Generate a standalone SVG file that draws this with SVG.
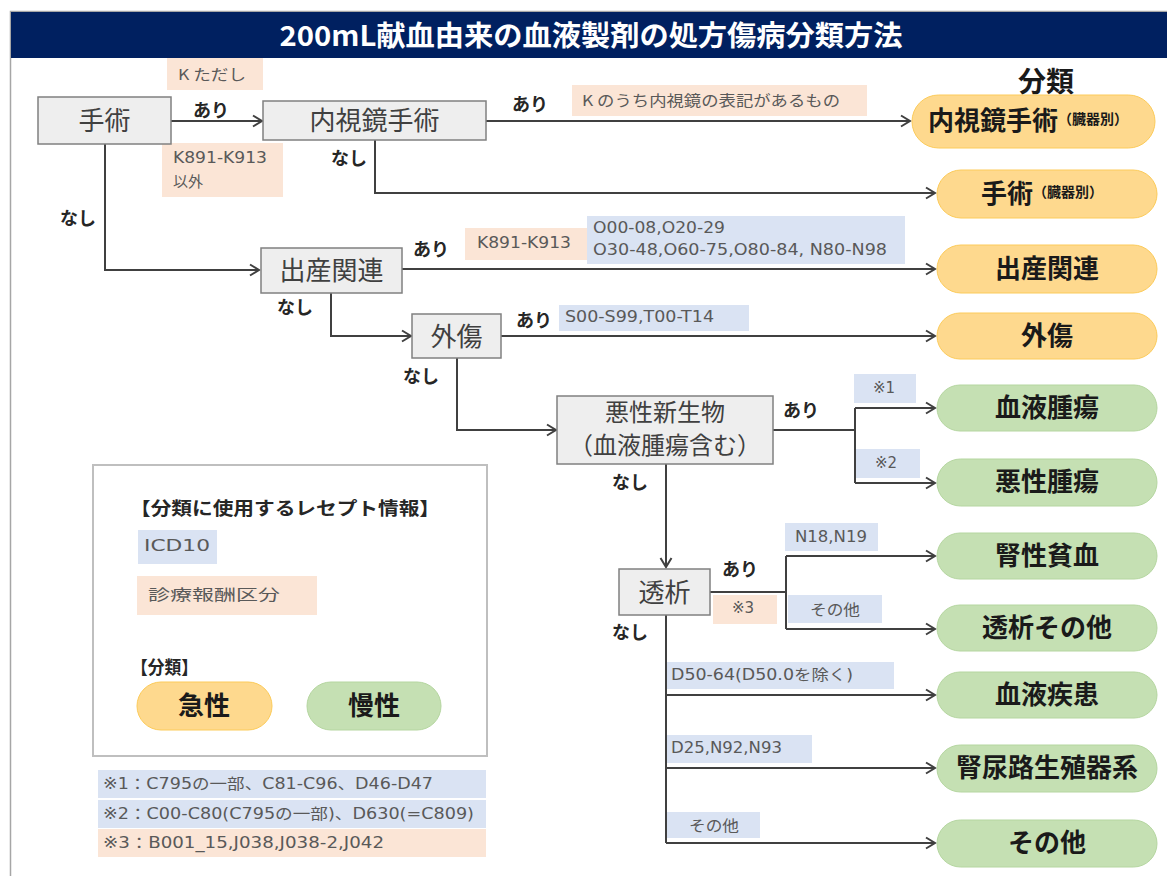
<svg xmlns="http://www.w3.org/2000/svg" width="1167" height="876" viewBox="0 0 1167 876">
<style>
.node rect{fill:#eeeeee;stroke:#808080;stroke-width:1.5}
.node text{font-family:"Noto Sans CJK JP","Noto Sans",sans-serif;font-size:26px;fill:#404040;text-anchor:middle;dominant-baseline:central}
.node .two{font-size:24px}
.lbl{font-family:"Noto Sans CJK JP","Noto Sans",sans-serif;font-size:18px;font-weight:bold;fill:#262626;dominant-baseline:central}
.pe{fill:#fbe5d6}
.bl{fill:#dae3f3}
.code{font-family:"DejaVu Sans","Noto Sans CJK JP",sans-serif;font-size:15px;fill:#595959;dominant-baseline:central}
.jpl{font-family:"Noto Sans CJK JP","Noto Sans",sans-serif;font-size:15px;fill:#595959;dominant-baseline:central}
.acute rect{fill:#fed98e;stroke:#fccb5a;stroke-width:1}
.chronic rect{fill:#c5e0b3;stroke:#b5d6a0;stroke-width:1}
.pill text{font-family:"Noto Sans CJK JP","Noto Sans",sans-serif;font-size:26px;font-weight:bold;fill:#1a1a1a;text-anchor:middle;dominant-baseline:central}
.pill .sm{font-size:14px}
.conn path{fill:none;stroke:#404040;stroke-width:2}
</style>
<defs>
<marker id="arr" viewBox="-11 -7 12 14" refX="0" refY="0" markerWidth="12" markerHeight="14" markerUnits="userSpaceOnUse" orient="auto" overflow="visible">
<path d="M-9,-5.5 L0,0 L-9,5.5" fill="none" stroke="#404040" stroke-width="2"/>
</marker>
</defs>
<rect x="0" y="0" width="1167" height="876" fill="#ffffff"/>
<rect x="10.5" y="11.5" width="1170" height="880" fill="none" stroke="#a6a6a6" stroke-width="1.5"/>
<g id="title">
<rect x="11" y="12" width="1160" height="46" fill="#002060"/>
<text x="591" y="34" font-family="Noto Sans CJK JP, sans-serif" font-size="28" font-weight="bold" fill="#ffffff" text-anchor="middle" dominant-baseline="central" textLength="623" lengthAdjust="spacingAndGlyphs">200mL献血由来の血液製剤の処方傷病分類方法</text>
</g>
<text x="1046" y="80" font-family="Noto Sans CJK JP, sans-serif" font-size="28" font-weight="bold" fill="#1a1a1a" text-anchor="middle" dominant-baseline="central">分類</text>

<g id="label-boxes">
<rect class="pe" x="167" y="58" width="96" height="32"/>
<text class="jpl" x="178" y="73" textLength="68" lengthAdjust="spacingAndGlyphs">K ただし</text>
<rect class="pe" x="162" y="143" width="121" height="54"/>
<text class="code" x="173" y="158" textLength="94" lengthAdjust="spacingAndGlyphs">K891-K913</text>
<text class="jpl" x="173" y="180">以外</text>
<rect class="pe" x="572" y="85" width="295" height="31"/>
<text class="jpl" x="582" y="99" textLength="258" lengthAdjust="spacingAndGlyphs">K のうち内視鏡の表記があるもの</text>
<rect class="pe" x="465" y="228" width="122" height="32"/>
<text class="code" x="477" y="243" textLength="94" lengthAdjust="spacingAndGlyphs">K891-K913</text>
<rect class="bl" x="587" y="216" width="318" height="48"/>
<text class="code" x="593" y="228" textLength="132" lengthAdjust="spacingAndGlyphs">O00-08,O20-29</text>
<text class="code" x="593" y="250" textLength="294" lengthAdjust="spacingAndGlyphs">O30-48,O60-75,O80-84, N80-N98</text>
<rect class="bl" x="559" y="305" width="190" height="26"/>
<text class="code" x="565" y="317" textLength="149" lengthAdjust="spacingAndGlyphs">S00-S99,T00-T14</text>
<rect class="bl" x="854" y="374" width="62" height="29"/>
<text class="code" x="873" y="388" font-size="16">※1</text>
<rect class="bl" x="854" y="449" width="66" height="29"/>
<text class="code" x="875" y="463" font-size="16">※2</text>
<rect class="bl" x="785" y="523" width="93" height="28"/>
<text class="code" x="795" y="537" textLength="72" lengthAdjust="spacingAndGlyphs">N18,N19</text>
<rect class="pe" x="713" y="595" width="64" height="29"/>
<text class="code" x="732" y="608" font-size="16">※3</text>
<rect class="bl" x="788" y="595" width="94" height="28"/>
<text class="jpl" x="810" y="608" textLength="50" lengthAdjust="spacingAndGlyphs">その他</text>
<rect class="bl" x="667" y="662" width="227" height="27"/>
<text class="code" x="671" y="675" textLength="182" lengthAdjust="spacingAndGlyphs">D50-64(D50.0を除く)</text>
<rect class="bl" x="667" y="735" width="145" height="28"/>
<text class="code" x="671" y="748" textLength="111" lengthAdjust="spacingAndGlyphs">D25,N92,N93</text>
<rect class="bl" x="667" y="812" width="93" height="26"/>
<text class="jpl" x="689" y="824" textLength="50" lengthAdjust="spacingAndGlyphs">その他</text>
</g>

<g id="connectors" class="conn">
<path d="M171,121 H262" marker-end="url(#arr)"/>
<path d="M486,121 H910" marker-end="url(#arr)"/>
<path d="M375,140 V193 H935" marker-end="url(#arr)"/>
<path d="M105,144 V270 H259" marker-end="url(#arr)"/>
<path d="M402,269 H935" marker-end="url(#arr)"/>
<path d="M331,293 V336 H411" marker-end="url(#arr)"/>
<path d="M501,336 H935" marker-end="url(#arr)"/>
<path d="M457,358 V430 H556" marker-end="url(#arr)"/>
<path d="M773,430 H855"/>
<path d="M855,408 V483"/>
<path d="M855,408 H935" marker-end="url(#arr)"/>
<path d="M855,483 H935" marker-end="url(#arr)"/>
<path d="M666,464 V567" marker-end="url(#arr)"/>
<path d="M710,592 H786"/>
<path d="M786,556 V629"/>
<path d="M786,556 H935" marker-end="url(#arr)"/>
<path d="M786,629 H935" marker-end="url(#arr)"/>
<path d="M666,615 V843"/>
<path d="M666,695 H935" marker-end="url(#arr)"/>
<path d="M666,768 H935" marker-end="url(#arr)"/>
<path d="M666,843 H935" marker-end="url(#arr)"/>
</g>

<g id="branch-labels">
<text class="lbl" x="193" y="109">あり</text>
<text class="lbl" x="60" y="217">なし</text>
<text class="lbl" x="331" y="157">なし</text>
<text class="lbl" x="512" y="103">あり</text>
<text class="lbl" x="413" y="248">あり</text>
<text class="lbl" x="277" y="306">なし</text>
<text class="lbl" x="516" y="319">あり</text>
<text class="lbl" x="403" y="375">なし</text>
<text class="lbl" x="783" y="409">あり</text>
<text class="lbl" x="612" y="481">なし</text>
<text class="lbl" x="722" y="568">あり</text>
<text class="lbl" x="612" y="631">なし</text>
</g>

<g id="node-shujutsu" class="node"><rect x="38" y="97" width="133" height="47"/><text x="104.5" y="118.5">手術</text></g>
<g id="node-naishikyo" class="node"><rect x="263" y="101" width="223" height="39"/><text x="374.5" y="118.5">内視鏡手術</text></g>
<g id="node-shussan" class="node"><rect x="261" y="248" width="141" height="45"/><text x="331.5" y="268">出産関連</text></g>
<g id="node-gaisho" class="node"><rect x="412" y="314" width="89" height="44"/><text x="456.5" y="334">外傷</text></g>
<g id="node-akusei" class="node"><rect x="557" y="396" width="216" height="68"/><text class="two" x="665" y="410">悪性新生物</text><text class="two" x="665" y="443">（血液腫瘍含む）</text></g>
<g id="node-toseki" class="node"><rect x="619" y="569" width="91" height="46"/><text x="664.5" y="590">透析</text></g>

<g id="out-naishikyo" class="pill acute"><rect x="912" y="95" width="243" height="53" rx="26.5"/><text x="1028" y="118">内視鏡手術<tspan class="sm">（臓器別）</tspan></text></g>
<g id="out-shujutsu" class="pill acute"><rect x="937" y="170" width="220" height="48" rx="24"/><text x="1042" y="191">手術<tspan class="sm">（臓器別）</tspan></text></g>
<g id="out-shussan" class="pill acute"><rect x="937" y="245" width="220" height="48" rx="24"/><text x="1047" y="266">出産関連</text></g>
<g id="out-gaisho" class="pill acute"><rect x="937" y="313" width="220" height="46" rx="23"/><text x="1047" y="333">外傷</text></g>
<g id="out-ketsueki-shuyo" class="pill chronic"><rect x="937" y="385" width="220" height="46" rx="23"/><text x="1047" y="405">血液腫瘍</text></g>
<g id="out-akusei-shuyo" class="pill chronic"><rect x="937" y="459" width="220" height="47" rx="23.5"/><text x="1047" y="479">悪性腫瘍</text></g>
<g id="out-jinsei-hinketsu" class="pill chronic"><rect x="937" y="533" width="220" height="46" rx="23"/><text x="1047" y="553">腎性貧血</text></g>
<g id="out-toseki-sonota" class="pill chronic"><rect x="937" y="605" width="220" height="46" rx="23"/><text x="1047" y="625">透析その他</text></g>
<g id="out-ketsueki-shikkan" class="pill chronic"><rect x="937" y="672" width="220" height="46" rx="23"/><text x="1047" y="692">血液疾患</text></g>
<g id="out-jinnyoro" class="pill chronic"><rect x="937" y="745" width="220" height="47" rx="23.5"/><text x="1047" y="765">腎尿路生殖器系</text></g>
<g id="out-sonota" class="pill chronic"><rect x="937" y="820" width="220" height="47" rx="23.5"/><text x="1047" y="840">その他</text></g>

<g id="legend">
<rect x="93" y="465" width="394" height="291" fill="#ffffff" stroke="#bfbfbf" stroke-width="2"/>
<text class="lbl" x="130" y="507" font-size="19" textLength="310" lengthAdjust="spacingAndGlyphs">【分類に使用するレセプト情報】</text>
<rect class="bl" x="138" y="530" width="79" height="34"/>
<text class="code" x="144" y="546" font-size="19" fill="#404040" textLength="66" lengthAdjust="spacingAndGlyphs">ICD10</text>
<rect class="pe" x="137" y="576" width="180" height="39"/>
<text class="jpl" x="148" y="593" font-size="21" fill="#404040" textLength="132" lengthAdjust="spacingAndGlyphs">診療報酬区分</text>
<text class="lbl" x="131" y="666" textLength="67" lengthAdjust="spacingAndGlyphs">【分類】</text>
<g class="pill acute"><rect x="137" y="682" width="135" height="48" rx="24"/><text x="204" y="703">急性</text></g>
<g class="pill chronic"><rect x="307" y="682" width="134" height="48" rx="24"/><text x="374" y="703">慢性</text></g>
</g>

<g id="footnotes">
<rect class="bl" x="98" y="770" width="388" height="28"/>
<text class="code" x="103" y="784" font-size="16" textLength="330" lengthAdjust="spacingAndGlyphs">※1：C795の一部、C81-C96、D46-D47</text>
<rect class="bl" x="98" y="800" width="388" height="28"/>
<text class="code" x="103" y="814" font-size="16" textLength="371" lengthAdjust="spacingAndGlyphs">※2：C00-C80(C795の一部)、D630(=C809)</text>
<rect class="pe" x="98" y="829" width="388" height="28"/>
<text class="code" x="103" y="843" font-size="16" textLength="281" lengthAdjust="spacingAndGlyphs">※3：B001_15,J038,J038-2,J042</text>
</g>
</svg>
